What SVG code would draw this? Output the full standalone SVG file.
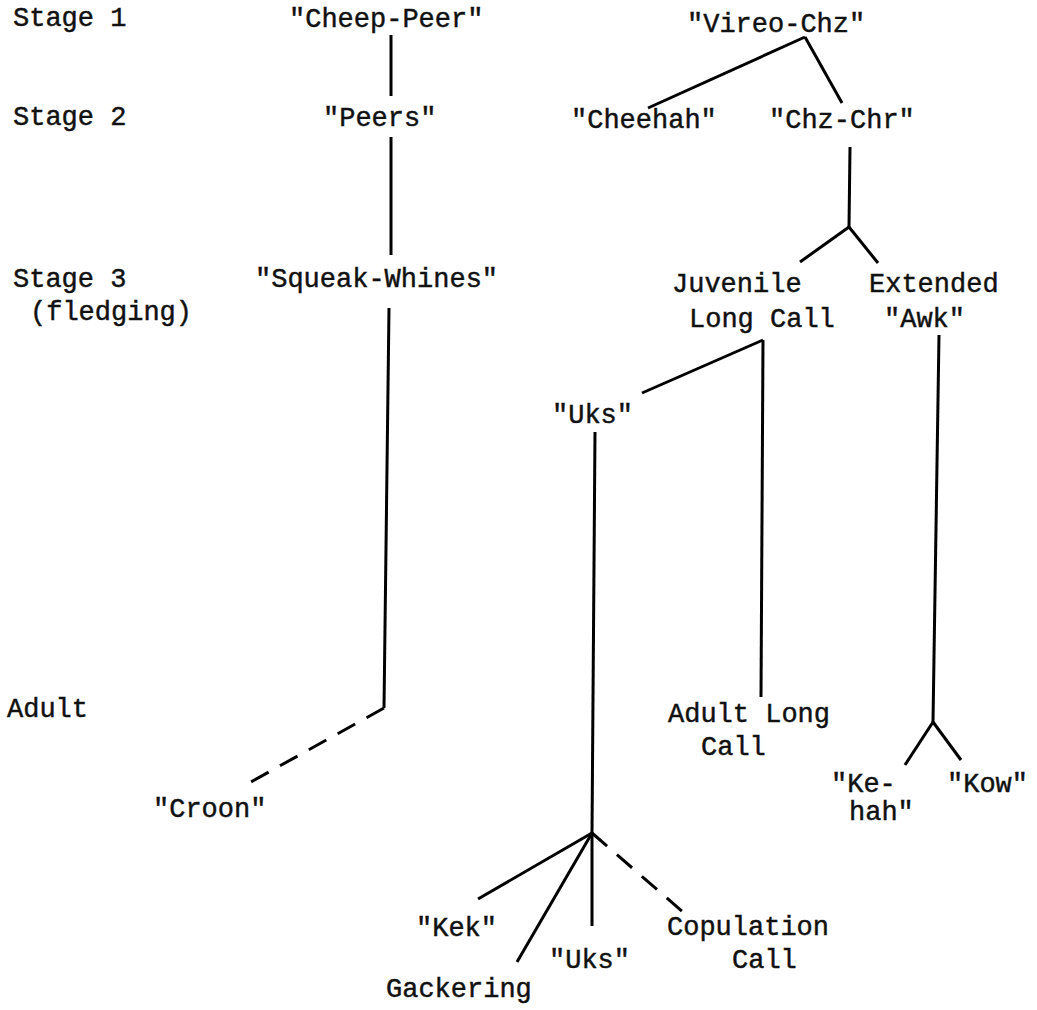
<svg xmlns="http://www.w3.org/2000/svg" width="1037" height="1010" viewBox="0 0 1037 1010">
<style>
text{font-family:"Liberation Mono","Courier New",monospace;font-size:27px;fill:#111;stroke:#111;stroke-width:0.45}
.c line{stroke:#000;stroke-width:3;stroke-linecap:butt;fill:none}
.c .d{stroke-dasharray:20 13}
</style>
<rect width="1037" height="1010" fill="#fff"/>
<g id="stage-labels">
<text x="13" y="26">Stage 1</text>
<text x="13" y="125">Stage 2</text>
<text x="13" y="287">Stage 3</text>
<text x="30" y="320">(fledging)</text>
<text x="7" y="717">Adult</text>
</g>
<g id="n-cheep-peer"><text x="289" y="27">"Cheep-Peer"</text></g>
<g id="n-peers"><text x="323" y="126">"Peers"</text></g>
<g id="n-squeak-whines"><text x="255" y="287">"Squeak-Whines"</text></g>
<g id="n-croon"><text x="153" y="817">"Croon"</text></g>
<g id="n-vireo-chz"><text x="687" y="32">"Vireo-Chz"</text></g>
<g id="n-cheehah"><text x="571" y="128">"Cheehah"</text></g>
<g id="n-chz-chr"><text x="769" y="128">"Chz-Chr"</text></g>
<g id="n-juvenile-long-call"><text x="672" y="292">Juvenile</text><text x="689" y="327">Long Call</text></g>
<g id="n-extended-awk"><text x="869" y="292">Extended</text><text x="884" y="327">"Awk"</text></g>
<g id="n-uks1"><text x="552" y="423">"Uks"</text></g>
<g id="n-adult-long-call"><text x="668" y="722">Adult Long</text><text x="701" y="755">Call</text></g>
<g id="n-kehah"><text x="831" y="792">"Ke-</text><text x="849" y="820">hah"</text></g>
<g id="n-kow"><text x="947" y="792">"Kow"</text></g>
<g id="n-kek"><text x="416" y="936">"Kek"</text></g>
<g id="n-uks2"><text x="549" y="968">"Uks"</text></g>
<g id="n-gackering"><text x="386" y="997">Gackering</text></g>
<g id="n-copulation-call"><text x="667" y="935">Copulation</text><text x="732" y="968">Call</text></g>
<g id="connectors" class="c">
<line x1="391" y1="35" x2="391" y2="96"/>
<line x1="391" y1="137" x2="391" y2="255"/>
<line x1="389" y1="308" x2="384" y2="708"/>
<line class="d" x1="384" y1="708" x2="240" y2="788"/>
<line x1="805" y1="37" x2="648" y2="108"/>
<line x1="805" y1="37" x2="842" y2="103"/>
<line x1="850" y1="147" x2="849" y2="227"/>
<line x1="849" y1="227" x2="800" y2="262"/>
<line x1="849" y1="227" x2="878" y2="263"/>
<line x1="763" y1="340" x2="642" y2="393"/>
<line x1="763" y1="340" x2="761" y2="697"/>
<line x1="939" y1="335" x2="933" y2="722"/>
<line x1="933" y1="722" x2="905" y2="765"/>
<line x1="933" y1="722" x2="961" y2="760"/>
<line x1="595" y1="432" x2="592" y2="833"/>
<line x1="592" y1="833" x2="478" y2="899"/>
<line x1="592" y1="833" x2="517" y2="962"/>
<line x1="592" y1="833" x2="592" y2="926"/>
<line class="d" x1="592" y1="833" x2="683" y2="912"/>
</g>
</svg>
